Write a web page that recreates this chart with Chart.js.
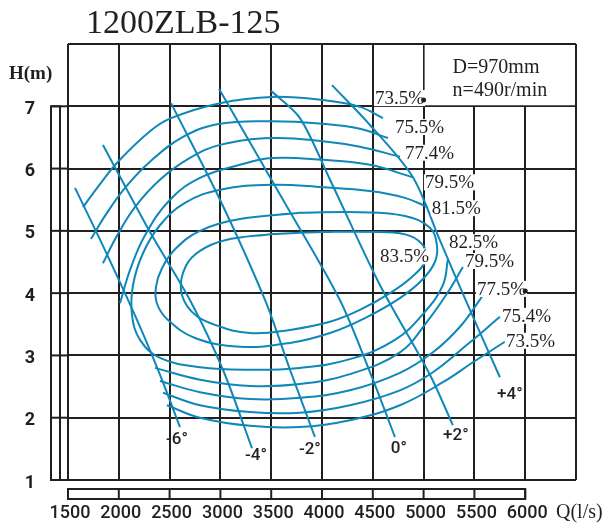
<!DOCTYPE html>
<html>
<head>
<meta charset="utf-8">
<script src="https://cdn.jsdelivr.net/npm/chart.js@4.4.1/dist/chart.umd.min.js"></script>
<style>
    html, body { margin: 0; padding: 0; background: #fff; }
    #pumpChart { display: block; }
</style>
</head>
<body>
<canvas id="pumpChart" width="608" height="525"></canvas>
<script>
// Axis ticks
const qTicks = [1500, 2000, 2500, 3000, 3500, 4000, 4500, 5000, 5500, 6000]
const hTicks = [1, 2, 3, 4, 5, 6, 7]

// Efficiency contours, [Q (l/s), H (m)]
const effTop735 = [[1648, 5.38], [1815, 5.75], [1992, 6.11], [2307, 6.6], [2514, 6.81], [2996, 7.05], [3507, 7.15], [4009, 7.1], [4373, 6.99], [4600, 6.81]]
const effTop755 = [[1726, 4.87], [1864, 5.24], [2061, 5.69], [2307, 6.11], [2632, 6.51], [2996, 6.72], [3507, 6.76], [4009, 6.72], [4373, 6.64], [4649, 6.49]]
const effTop774 = [[1844, 4.48], [1982, 4.92], [2159, 5.38], [2405, 5.82], [2700, 6.17], [2996, 6.38], [3507, 6.49], [4009, 6.44], [4373, 6.35], [4767, 6.19]]
const effTop795 = [[2012, 3.84], [2110, 4.37], [2258, 4.93], [2504, 5.5], [2799, 5.85], [3192, 6.06], [3507, 6.17], [4009, 6.14], [4472, 6.06], [4895, 5.86]]
const eff815 = [[5042, 5.38], [4816, 5.53], [4472, 5.64], [4009, 5.7], [3507, 5.74], [2996, 5.66], [2651, 5.45], [2405, 5.09], [2238, 4.64], [2140, 4.13], [2130, 3.65], [2209, 3.25], [2405, 2.96], [2799, 2.81], [3291, 2.77], [3783, 2.8], [4275, 2.94], [4718, 3.25], [5013, 3.7], [5190, 4.13], [5240, 4.55]]
const effLoop825 = [[3783, 5.29], [4373, 5.3], [4816, 5.24], [5062, 5.05], [5131, 4.77], [5111, 4.5], [4984, 4.21], [4767, 3.92], [4423, 3.6], [4079, 3.36], [3685, 3.2], [3192, 3.14], [2750, 3.28], [2484, 3.57], [2376, 3.83], [2366, 4.1], [2425, 4.4], [2563, 4.72], [2799, 5.0], [3192, 5.19], [3783, 5.29]]
const effLoop835 = [[3507, 4.95], [4009, 4.98], [4570, 4.98], [4866, 4.92], [5013, 4.72], [5013, 4.5], [4885, 4.26], [4669, 4.0], [4373, 3.73], [4078, 3.54], [3685, 3.41], [3291, 3.36], [2947, 3.49], [2720, 3.7], [2612, 4.05], [2661, 4.44], [2799, 4.68], [3045, 4.85], [3507, 4.95]]
const effBot795 = [[2356, 2.8], [2799, 2.61], [3291, 2.51], [3783, 2.54], [4275, 2.7], [4767, 3.05], [5033, 3.54], [5229, 3.99], [5387, 4.42]]
const effBot775 = [[2405, 2.59], [2799, 2.41], [3291, 2.3], [3783, 2.32], [4275, 2.44], [4767, 2.72], [5092, 3.05], [5358, 3.46], [5574, 3.94]]
const effBot754 = [[2435, 2.4], [2799, 2.2], [3291, 2.09], [3783, 2.08], [4275, 2.2], [4767, 2.44], [5092, 2.73], [5427, 3.17], [5751, 3.62]]
const effBot735 = [[2474, 2.2], [2799, 2.0], [3291, 1.87], [3783, 1.85], [4275, 1.96], [4767, 2.2], [5190, 2.57], [5486, 2.89], [5800, 3.22]]

// Blade angle lines
const bladeM6 = [[1569, 5.69], [1864, 4.69], [2179, 3.57], [2405, 2.69], [2602, 1.85]]
const bladeM4 = [[1844, 6.38], [2307, 4.98], [2700, 3.89], [3025, 2.77], [3311, 1.51]]
const bladeM2 = [[2514, 7.05], [2996, 5.5], [3439, 3.89], [3685, 2.77], [3930, 1.69]]
const blade0 = [[2986, 7.28], [3616, 5.5], [4176, 3.89], [4501, 2.61], [4718, 1.69]]
const bladeP2 = [[3498, 7.25], [3783, 6.81], [4079, 5.82], [4570, 4.13], [5062, 2.69], [5288, 1.88]]
const bladeP4 = [[4098, 7.34], [4472, 6.7], [4895, 5.86], [5160, 4.85], [5456, 3.73], [5751, 2.65]]

const curveColor = '#0f87b8'
const ink = '#231f20'

const effCurves = [effTop735, effTop755, effTop774, effTop795, eff815, effLoop825, effLoop835, effBot795, effBot775, effBot754, effBot735]
const bladeCurves = [bladeM6, bladeM4, bladeM2, blade0, bladeP2, bladeP4]

// where each tag sits relative to its curve (pixels)
const effTags = [
    { text: '73.5%', pts: effTop735, at: 'last', dx: -8, dy: -20, dot: 5000 },
    { text: '75.5%', pts: effTop755, at: 'last', dx: 7, dy: -11 },
    { text: '77.4%', pts: effTop774, at: 'last', dx: 5, dy: -4 },
    { text: '79.5%', pts: effTop795, at: 'last', dx: 12, dy: 5 },
    { text: '81.5%', pts: eff815, at: 'first', dx: 4, dy: 1 },
    { text: '82.5%', pts: effLoop825, at: 'maxX', dx: 12, dy: -3 },
    { text: '83.5%', pts: effLoop835, at: 'maxX', dx: -45, dy: 8 },
    { text: '79.5%', pts: effBot795, at: 'last', dx: 2, dy: -6 },
    { text: '77.5%', pts: effBot775, at: 'last', dx: -5, dy: -8, dot: 6000 },
    { text: '75.4%', pts: effBot754, at: 'last', dx: 2, dy: -1 },
    { text: '73.5%', pts: effBot735, at: 'last', dx: 1, dy: -1 },
]
const bladeTags = [
    { text: '-6°', pts: bladeM6, dx: -3, dy: 13 },
    { text: '-4°', pts: bladeM4, dx: 4, dy: 8 },
    { text: '-2°', pts: bladeM2, dx: -5, dy: 13 },
    { text: '0°', pts: blade0, dx: 4, dy: 12 },
    { text: '+2°', pts: bladeP2, dx: 3, dy: 11 },
    { text: '+4°', pts: bladeP4, dx: 10, dy: 18 },
]

function toPts(arr) {
    return arr.map(([x, y]) => ({ x, y }))
}

function curveSet(arr, tension) {
    return {
        data: toPts(arr),
        showLine: true,
        borderColor: curveColor,
        borderWidth: 2,
        pointRadius: 0,
        tension: tension,
        fill: false,
    }
}

function pickPoint(arr, at) {
    if (at === 'first') return arr[0]
    if (at === 'maxX') return arr.reduce((a, b) => (b[0] > a[0] ? b : a))
    return arr[arr.length - 1]
}

const decorPlugin = {
    id: 'decorPlugin',
    beforeDatasetsDraw(chart) {
        const { ctx, scales: { x, y } } = chart
        // blank the grid behind the speed box
        ctx.save()
        ctx.fillStyle = '#fff'
        const l = x.getPixelForValue(5000), r = x.getPixelForValue(6500)
        const t = y.getPixelForValue(8), b = y.getPixelForValue(7)
        ctx.fillRect(l + 1, t + 1, r - l - 2, b - t - 2)
        ctx.restore()
    },
    afterDatasetsDraw(chart) {
        const { ctx, scales: { x, y } } = chart
        ctx.save()
        ctx.textBaseline = 'middle'

        ctx.font = '19px "Liberation Serif"'
        effTags.forEach((tag) => {
            const p = pickPoint(tag.pts, tag.at)
            const px = x.getPixelForValue(p[0]) + tag.dx
            const py = y.getPixelForValue(p[1]) + tag.dy
            const w = ctx.measureText(tag.text).width
            ctx.fillStyle = '#fff'
            ctx.fillRect(px - 1, py - 8, w + 2, 16)
            ctx.fillStyle = ink
            ctx.textAlign = 'left'
            ctx.fillText(tag.text, px, py + 1)
            if (tag.dot) {
                ctx.beginPath()
                ctx.arc(x.getPixelForValue(tag.dot), py + 2, 2.5, 0, Math.PI * 2)
                ctx.fill()
            }
        })

        ctx.font = '500 17px Roboto'
        bladeTags.forEach((tag) => {
            const p = tag.pts[tag.pts.length - 1]
            const px = x.getPixelForValue(p[0]) + tag.dx
            const py = y.getPixelForValue(p[1]) + tag.dy
            ctx.fillStyle = ink
            ctx.textAlign = 'center'
            ctx.fillText(tag.text, px, py)
        })

        // speed box text
        const bl = x.getPixelForValue(5000)
        ctx.font = '20px "Liberation Serif"'
        ctx.textAlign = 'left'
        ctx.fillStyle = ink
        ctx.fillText('D=970mm', bl + 29, y.getPixelForValue(7.62))
        ctx.fillText('n=490r/min', bl + 29, y.getPixelForValue(7.25))
        ctx.restore()
    },
    afterDraw(chart) {
        const { ctx, scales: { x, y } } = chart
        const area = chart.chartArea
        ctx.save()
        ctx.strokeStyle = ink
        ctx.lineWidth = 2

        // left scale bar with ruled divisions
        const barL = area.left - 17, barR = area.left - 8
        const yTop = y.getPixelForValue(7), yBot = y.getPixelForValue(1)
        ctx.strokeRect(barL, yTop, barR - barL, yBot - yTop)
        hTicks.forEach((v) => {
            const py = y.getPixelForValue(v)
            ctx.beginPath()
            ctx.moveTo(barL, py)
            ctx.lineTo(area.left, py)
            ctx.stroke()
        })

        // bottom scale bar
        const barT = area.bottom + 9, barB = area.bottom + 19
        const xL = x.getPixelForValue(1500), xR = x.getPixelForValue(6000)
        ctx.strokeRect(xL, barT, xR - xL, barB - barT)
        qTicks.forEach((v) => {
            const px = x.getPixelForValue(v)
            ctx.beginPath()
            ctx.moveTo(px, barT)
            ctx.lineTo(px, barB)
            ctx.stroke()
        })

        ctx.fillStyle = ink
        ctx.textBaseline = 'middle'

        ctx.font = '500 18px Roboto'
        ctx.textAlign = 'center'
        qTicks.forEach((v) => {
            ctx.fillText(String(v), x.getPixelForValue(v) + 2, area.bottom + 33)
        })
        ctx.font = 'bold 18px Roboto'
        ctx.textAlign = 'right'
        hTicks.forEach((v) => {
            ctx.fillText(String(v), 35, y.getPixelForValue(v) + 3)
        })

        ctx.font = 'bold 19px "Liberation Serif"'
        ctx.textAlign = 'left'
        ctx.fillText('H(m)', 9, 74)

        ctx.font = '20px "Liberation Serif"'
        ctx.fillText('Q(l/s)', 556, area.bottom + 33)

        ctx.font = '34px "Liberation Serif"'
        ctx.fillText('1200ZLB-125', 86, 24)
        ctx.restore()
    },
}

const datasets = [
    ...effCurves.map((c) => curveSet(c, 0.4)),
    ...bladeCurves.map((c) => curveSet(c, 0.3)),
]

const chart = new Chart(document.getElementById('pumpChart'), {
    type: 'scatter',
    data: { datasets },
    options: {
        responsive: false,
        animation: false,
        layout: { padding: { left: 68, right: 32, top: 44, bottom: 45 } },
        plugins: { legend: { display: false }, tooltip: { enabled: false } },
        scales: {
            x: {
                type: 'linear',
                min: 1500,
                max: 6500,
                ticks: { display: false, stepSize: 500 },
                grid: { color: ink, lineWidth: 2, drawTicks: false },
                border: { display: false },
            },
            y: {
                type: 'linear',
                min: 1,
                max: 8,
                ticks: { display: false, stepSize: 1 },
                grid: { color: ink, lineWidth: 2, drawTicks: false },
                border: { display: false },
            },
        },
    },
    plugins: [decorPlugin],
})
</script>
</body>
</html>
